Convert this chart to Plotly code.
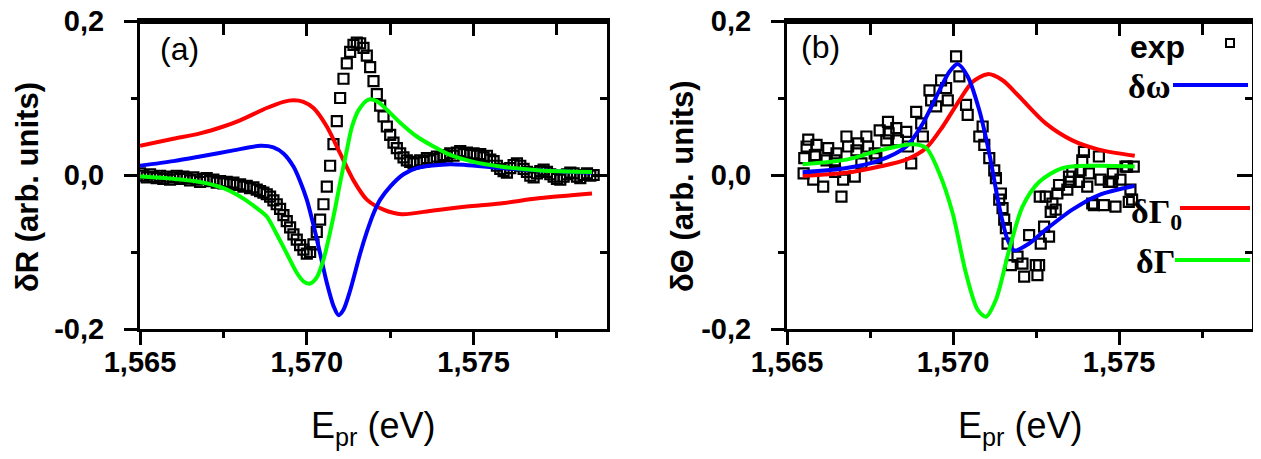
import plotly.graph_objects as go

# page body has an 8px margin, so the figure is drawn 16px smaller and all
# layout positions below are given in window pixels
WIN_W, WIN_H = 1261, 459
PAD = 8
W, H = WIN_W - 2 * PAD, WIN_H - 2 * PAD

# ---------------- data: panel (a) ----------------
exp_a_E = [1.5650, 1.5651, 1.5652, 1.5653, 1.5654, 1.5655, 1.5656, 1.5657, 1.5658, 1.5659,
           1.5660, 1.5661, 1.5662, 1.5663, 1.5664, 1.5665, 1.5666, 1.5667, 1.5668, 1.5669,
           1.5670, 1.5671, 1.5672, 1.5673, 1.5674, 1.5675, 1.5676, 1.5677, 1.5678, 1.5679,
           1.5680, 1.5681, 1.5682, 1.5683, 1.5684, 1.5685, 1.5686, 1.5687,
           1.5688, 1.5689, 1.5690, 1.5691, 1.5692, 1.5693, 1.5694, 1.5695, 1.5696, 1.5697,
           1.5698, 1.5699, 1.5700, 1.5701, 1.5702, 1.5703, 1.5704, 1.5705, 1.5706, 1.5707,
           1.5708, 1.5709, 1.5710, 1.5711, 1.5712, 1.5713, 1.5714, 1.5715, 1.5716, 1.5717,
           1.5718, 1.5719, 1.5720, 1.5721, 1.5722, 1.5723, 1.5724, 1.5725, 1.5726, 1.5727,
           1.5728, 1.5729, 1.5730, 1.5731, 1.5732,
           1.5733, 1.5734, 1.5735, 1.5736, 1.5737, 1.5738, 1.5739, 1.5740, 1.5741, 1.5742,
           1.5743, 1.5744, 1.5745, 1.5746, 1.5747, 1.5748, 1.5749, 1.5750, 1.5751, 1.5752,
           1.5753, 1.5754, 1.5755, 1.5756, 1.5757, 1.5758, 1.5759, 1.5760, 1.5761, 1.5762,
           1.5763, 1.5764, 1.5765, 1.5766, 1.5767, 1.5768, 1.5769, 1.5770, 1.5771, 1.5772,
           1.5773, 1.5774, 1.5775, 1.5776, 1.5777, 1.5778, 1.5779, 1.5780, 1.5781, 1.5782,
           1.5783, 1.5784, 1.5785, 1.5786]
exp_a_v = [0.002, -0.001, -0.003, 0.001, -0.002, -0.004, -0.001, -0.005, -0.002, -0.006,
           -0.003, -0.001, -0.005, -0.002, -0.004, -0.007, -0.003, -0.006, -0.009, -0.005,
           -0.004, -0.008, -0.006, -0.010, -0.008, -0.011, -0.009, -0.012, -0.010, -0.013,
           -0.012, -0.015, -0.014, -0.017, -0.016, -0.019, -0.021, -0.023,
           -0.025, -0.028, -0.033, -0.038, -0.044, -0.052, -0.060, -0.068, -0.077, -0.084,
           -0.091, -0.097, -0.102, -0.100, -0.090, -0.074, -0.058, -0.038, -0.015, 0.012,
           0.040, 0.070, 0.100, 0.125, 0.145, 0.160, 0.169, 0.172, 0.171, 0.165,
           0.155, 0.140, 0.122, 0.105, 0.090, 0.076, 0.063, 0.052, 0.042, 0.035,
           0.028, 0.023, 0.019, 0.017, 0.015,
           0.016, 0.019, 0.017, 0.022, 0.019, 0.021, 0.024, 0.023, 0.026, 0.024,
           0.028, 0.025, 0.029, 0.031, 0.027, 0.029, 0.026, 0.028, 0.025, 0.027,
           0.023, 0.025, 0.020, 0.018, 0.012, 0.008, 0.005, 0.003, 0.009, 0.013,
           0.015, 0.012, 0.008, 0.004, -0.001, -0.003, 0.002, 0.005, 0.007, 0.004,
           0.001, -0.002, -0.005, -0.006, -0.002, 0.001, 0.003, 0.002, -0.002, -0.004,
           0.000, 0.002, -0.001, 0.000]

red_a_E = [1.5650, 1.5660, 1.5668, 1.5675, 1.5680, 1.5688, 1.5693, 1.5696, 1.5699, 1.5702,
           1.5706, 1.5710, 1.5714, 1.5718, 1.5723, 1.57285, 1.5738, 1.5748, 1.5758, 1.5770, 1.57855]
red_a_v = [0.038, 0.047, 0.054, 0.063, 0.071, 0.087, 0.095, 0.097, 0.095, 0.087,
           0.063, 0.028, -0.007, -0.032, -0.045, -0.051, -0.046, -0.041, -0.037, -0.030, -0.024]

blue_a_E = [1.5650, 1.5660, 1.5668, 1.5678, 1.5686, 1.5690, 1.5693, 1.5696, 1.5698, 1.5700,
            1.5702, 1.5704, 1.5706, 1.5708, 1.57095, 1.5711, 1.5713, 1.5716, 1.5718, 1.5720,
            1.5722, 1.5725, 1.5729, 1.5733, 1.5743, 1.5758, 1.5770, 1.57855]
blue_a_v = [0.012, 0.018, 0.024, 0.032, 0.038, 0.036, 0.028, 0.011, -0.008, -0.032,
            -0.065, -0.102, -0.140, -0.170, -0.182, -0.175, -0.150, -0.102, -0.074, -0.050,
            -0.032, -0.015, 0.001, 0.009, 0.014, 0.009, 0.006, 0.003]

green_a_E = [1.5650, 1.5660, 1.5668, 1.5675, 1.5680, 1.5685, 1.5688, 1.5691, 1.5694, 1.5697,
             1.5699, 1.5701, 1.5703, 1.5705, 1.5708, 1.5710, 1.5712, 1.57135, 1.57155, 1.57185,
             1.5721, 1.5723, 1.5728, 1.5733, 1.5738, 1.5743, 1.5750, 1.5758, 1.5770, 1.57855]
green_a_v = [-0.002, -0.005, -0.009, -0.017, -0.028, -0.043, -0.054, -0.077, -0.102, -0.127,
             -0.138, -0.141, -0.133, -0.110, -0.054, -0.010, 0.032, 0.062, 0.084, 0.098,
             0.096, 0.089, 0.068, 0.050, 0.037, 0.026, 0.017, 0.011, 0.006, 0.004]

# ---------------- data: panel (b) ----------------
exp_b_E = [1.56550, 1.56552, 1.56559, 1.56564, 1.56579, 1.56584, 1.56589, 1.56609, 1.56624, 1.56644,
           1.56664, 1.56669, 1.56679, 1.56684, 1.56704, 1.56709, 1.56724, 1.56739, 1.56744, 1.56764,
           1.56779, 1.56799, 1.56804, 1.56829, 1.56834, 1.56859, 1.56864, 1.56874, 1.56889, 1.56904,
           1.56909, 1.56929, 1.56934, 1.56949, 1.56964, 1.56979, 1.56984, 1.57009, 1.57019, 1.57039,
           1.57044, 1.57079, 1.57089, 1.57094, 1.57109, 1.57124, 1.57129, 1.57139, 1.57144, 1.57149,
           1.57154, 1.57159, 1.57164, 1.57174, 1.57194, 1.57209, 1.57214, 1.57229, 1.57249, 1.57254,
           1.57259, 1.57264, 1.57274, 1.57279, 1.57289, 1.57299, 1.57309, 1.57319, 1.57344, 1.57349,
           1.57354, 1.57384, 1.57389, 1.57394, 1.57404, 1.57424, 1.57439, 1.57444, 1.57454, 1.57479,
           1.57489, 1.57504, 1.57524, 1.57534, 1.57539, 1.57544,
           1.56586, 1.56619, 1.56649, 1.56645, 1.56714, 1.56769, 1.56806, 1.57359, 1.57409, 1.57481,
           1.57379, 1.57469, 1.57519, 1.57314, 1.57419, 1.57529, 1.57294, 1.57261]
exp_b_v = [0.002, 0.022, 0.037, 0.046, -0.006, 0.026, 0.039, -0.015, 0.035, 0.019,
           -0.028, -0.006, 0.050, 0.037, -0.002, 0.032, 0.015, 0.050, 0.037, 0.028,
           0.058, 0.045, 0.069, 0.061, 0.045, 0.056, 0.037, 0.015, 0.082, 0.067,
           0.050, 0.110, 0.097, 0.089, 0.123, 0.113, 0.097, 0.154, 0.128, 0.091,
           0.078, 0.050, 0.063, 0.039, 0.022, 0.006, -0.004, -0.032, -0.024, -0.043,
           -0.058, -0.069, -0.089, -0.117, -0.106, -0.115, -0.132, -0.078, -0.117, -0.130,
           -0.117, -0.089, -0.067, -0.028, -0.080, -0.037, -0.045, -0.013, -0.019, -0.002,
           -0.009, 0.006, 0.019, 0.030, -0.015, -0.039, 0.024, -0.006, -0.039, -0.009,
           -0.041, -0.006, 0.011, -0.019, -0.032, 0.011,
           0.024, 0.019, 0.028, 0.004, 0.041, 0.022, 0.054, 0.004, 0.002, 0.002,
           -0.009, -0.009, 0.011, -0.024, -0.037, -0.035, -0.048, -0.028]

red_b_E = [1.56547, 1.56679, 1.56779, 1.56859, 1.56919, 1.56969, 1.57019, 1.57059, 1.57104,
           1.57149, 1.57199, 1.57279, 1.57359, 1.57439, 1.57547]
red_b_v = [-0.001, 0.003, 0.011, 0.020, 0.035, 0.063, 0.097, 0.121, 0.131,
           0.123, 0.102, 0.067, 0.045, 0.033, 0.025]

blue_b_E = [1.56547, 1.56679, 1.56779, 1.56859, 1.56909, 1.56959, 1.56989, 1.57014, 1.57044,
            1.57079, 1.57109, 1.57139, 1.57164, 1.57184, 1.57229, 1.57279, 1.57359, 1.57439, 1.57547]
blue_b_v = [0.0035, 0.009, 0.019, 0.037, 0.067, 0.110, 0.134, 0.144, 0.128,
            0.084, 0.028, -0.041, -0.084, -0.098, -0.089, -0.071, -0.045, -0.026, -0.014]

green_b_E = [1.56547, 1.56679, 1.56779, 1.56879, 1.56919, 1.56959, 1.56999, 1.57039, 1.57074,
             1.57099, 1.57129, 1.57169, 1.57209, 1.57259, 1.57329, 1.57429, 1.57547]
green_b_v = [0.014, 0.020, 0.032, 0.040, 0.035, 0.002, -0.050, -0.128, -0.175,
             -0.184, -0.162, -0.097, -0.041, -0.009, 0.009, 0.012, 0.011]

# ticks
x_tickvals = [1.565, 1.570, 1.575]
x_ticktext = ["1,565", "1,570", "1,575"]
x_minorvals = [1.5675, 1.5725, 1.5775]
y_tickvals = [-0.2, 0.0, 0.2]
y_ticktext = ["-0,2", "0,0", "0,2"]
y_minorvals = [-0.1, 0.1]
X_RANGE = [1.565, 1.579]
Y_RANGE = [-0.2, 0.2]

RED, BLUE, GREEN = "#FF0000", "#0000FF", "#00FF00"


def px(x):
    return (x - PAD) / W


def py(y):
    return 1 - (y - PAD) / H


def clamp(v):
    return max(0.0, min(1.0, v))


fig = go.Figure()

panels = [
    ("x", "y", exp_a_E, exp_a_v, red_a_E, red_a_v, blue_a_E, blue_a_v, green_a_E, green_a_v),
    ("x2", "y2", exp_b_E, exp_b_v, red_b_E, red_b_v, blue_b_E, blue_b_v, green_b_E, green_b_v),
]
for xa, ya, eE, ev, rE, rv, bE, bv, gE, gv in panels:
    fig.add_trace(go.Scatter(x=eE, y=ev, mode="markers", xaxis=xa, yaxis=ya,
                             marker=dict(symbol="square-open", size=10, color="black",
                                         line=dict(width=2.2, color="black")),
                             showlegend=False))
    for E, v, c in [(rE, rv, RED), (bE, bv, BLUE), (gE, gv, GREEN)]:
        fig.add_trace(go.Scatter(x=E, y=v, mode="lines", xaxis=xa, yaxis=ya,
                                 line=dict(color=c, width=4, shape="spline", smoothing=0.8),
                                 showlegend=False))

# invisible carriers so that the tick-only overlay axes get drawn
for xa, ya in [("x3", "y"), ("x", "y3"), ("x5", "y"), ("x", "y5"),
               ("x4", "y2"), ("x2", "y4"), ("x6", "y2"), ("x2", "y6")]:
    fig.add_trace(go.Scatter(x=x_tickvals, y=y_tickvals, xaxis=xa, yaxis=ya, mode="markers",
                             marker=dict(opacity=0, size=1), hoverinfo="skip", showlegend=False))

tickfont = dict(family="Liberation Sans", size=29, color="black", weight="bold")
LW = 3


def label_x(domain, anchor):
    # main x axis: line + labels, no ticks (ticks come from overlay axes)
    return dict(domain=domain, anchor=anchor, range=X_RANGE, showgrid=False, zeroline=False,
                automargin=False, showline=True, linewidth=LW, linecolor="black", mirror=False,
                tickmode="array", tickvals=x_tickvals, ticktext=x_ticktext, ticks="",
                tickfont=tickfont, ticklabelstandoff=5, ticklabeloverflow="allow")


def label_y(domain, anchor):
    return dict(domain=domain, anchor=anchor, range=Y_RANGE, showgrid=False, zeroline=False,
                automargin=False, showline=True, linewidth=LW, linecolor="black", mirror=False,
                tickmode="array", tickvals=y_tickvals, ticktext=y_ticktext, ticks="",
                tickfont=tickfont, ticklabelstandoff=27, ticklabeloverflow="allow")


def tick_x(over, anchor, side, direction, minor_len, line):
    return dict(overlaying=over, anchor=anchor, side=side, range=X_RANGE, automargin=False,
                showgrid=False, zeroline=False, showline=line, linewidth=LW, linecolor="black",
                showticklabels=False,
                tickmode="array", tickvals=x_tickvals, ticks=direction, ticklen=15,
                tickwidth=LW, tickcolor="black",
                minor=dict(tickmode="array", tickvals=x_minorvals, ticks=direction,
                           ticklen=minor_len, tickwidth=LW, tickcolor="black"))


def tick_y(over, anchor, side, direction, minor_len, line):
    return dict(overlaying=over, anchor=anchor, side=side, range=Y_RANGE, automargin=False,
                showgrid=False, zeroline=False, showline=line, linewidth=LW, linecolor="black",
                showticklabels=False,
                tickmode="array", tickvals=y_tickvals, ticks=direction, ticklen=15,
                tickwidth=LW, tickcolor="black",
                minor=dict(tickmode="array", tickvals=y_minorvals, ticks=direction,
                           ticklen=minor_len, tickwidth=LW, tickcolor="black"))


ydom = [clamp(py(329)), clamp(py(21))]
fig.update_layout(
    template="none",
    width=W, height=H, margin=dict(l=0, r=0, t=0, b=0, autoexpand=False),
    paper_bgcolor="white", plot_bgcolor="white", showlegend=False,
    font=dict(family="Liberation Sans", color="black"),
    xaxis=label_x([clamp(px(140)), clamp(px(607))], "y"),
    yaxis=label_y(ydom, "x"),
    xaxis2=label_x([clamp(px(787)), clamp(px(1252))], "y2"),
    yaxis2=label_y(ydom, "x2"),
    xaxis3=tick_x("x", "y", "top", "inside", 14, True),
    yaxis3=tick_y("y", "x", "right", "inside", 7, True),
    xaxis5=tick_x("x", "y", "bottom", "outside", 8, False),
    yaxis5=tick_y("y", "x", "left", "outside", 8, False),
    xaxis4=tick_x("x2", "y2", "top", "inside", 14, True),
    yaxis4=tick_y("y2", "x2", "right", "inside", 7, True),
    xaxis6=tick_x("x2", "y2", "bottom", "outside", 8, False),
    yaxis6=tick_y("y2", "x2", "left", "outside", 8, False),
)

ann = []
sans = "Liberation Sans"
serif = "Liberation Serif"
ann.append(dict(text="E<sub>pr</sub> (eV)", x=px(373.5), y=py(428), font=dict(family=sans, size=36)))
ann.append(dict(text="E<sub>pr</sub> (eV)", x=px(1020), y=py(428), font=dict(family=sans, size=36)))
ann.append(dict(text="δR (arb. units)", x=px(27), y=py(187), textangle=-90,
                font=dict(family=sans, size=31, weight="bold")))
ann.append(dict(text="δΘ (arb. units)", x=px(682), y=py(186), textangle=-90,
                font=dict(family=sans, size=31, weight="bold")))
ann.append(dict(text="(a)", x=px(179), y=py(49), font=dict(family=sans, size=32)))
ann.append(dict(text="(b)", x=px(821), y=py(47), font=dict(family=sans, size=32)))
# legend texts
ann.append(dict(text="exp", x=px(1157), y=py(47), font=dict(family=sans, size=32, weight="bold")))
ann.append(dict(text="δω", x=px(1149), y=py(86), font=dict(family=serif, size=34, weight="bold")))
ann.append(dict(text="δΓ<sub>0</sub>", x=px(1156), y=py(214), font=dict(family=serif, size=34, weight="bold")))
ann.append(dict(text="δΓ", x=px(1155), y=py(261), font=dict(family=serif, size=34, weight="bold")))
for a in ann:
    a.update(xref="paper", yref="paper", showarrow=False, xanchor="center", yanchor="middle",
             font=dict(color="black", **a["font"]))
fig.update_layout(annotations=ann)

shapes = [
    # top frame edges of both panels
    dict(type="line", xref="paper", yref="paper", x0=px(137), x1=px(610), y0=py(19.5), y1=py(19.5),
         line=dict(color="black", width=LW)),
    dict(type="line", xref="paper", yref="paper", x0=px(784), x1=px(1255), y0=py(19.5), y1=py(19.5),
         line=dict(color="black", width=LW)),
    # same edges referenced to the subplot domains (inner half stays visible)
    dict(type="line", xref="x domain", yref="y domain", x0=0, x1=1, y0=1, y1=1,
         line=dict(color="black", width=2 * LW)),
    dict(type="line", xref="x2 domain", yref="y2 domain", x0=0, x1=1, y0=1, y1=1,
         line=dict(color="black", width=2 * LW)),
    # legend samples
    dict(type="rect", xref="paper", yref="paper", x0=px(1226), x1=px(1234), y0=py(47), y1=py(39),
         line=dict(color="black", width=2)),
    dict(type="line", xref="paper", yref="paper", x0=px(1173), x1=px(1248), y0=py(85), y1=py(85),
         line=dict(color=BLUE, width=4)),
    dict(type="line", xref="paper", yref="paper", x0=px(1180), x1=px(1250), y0=py(208), y1=py(208),
         line=dict(color=RED, width=4)),
    dict(type="line", xref="paper", yref="paper", x0=px(1175), x1=px(1250), y0=py(260), y1=py(260),
         line=dict(color=GREEN, width=4)),
]
for s in shapes:
    s.update(layer="above")
fig.update_layout(shapes=shapes)

fig.write_html("out.html")
